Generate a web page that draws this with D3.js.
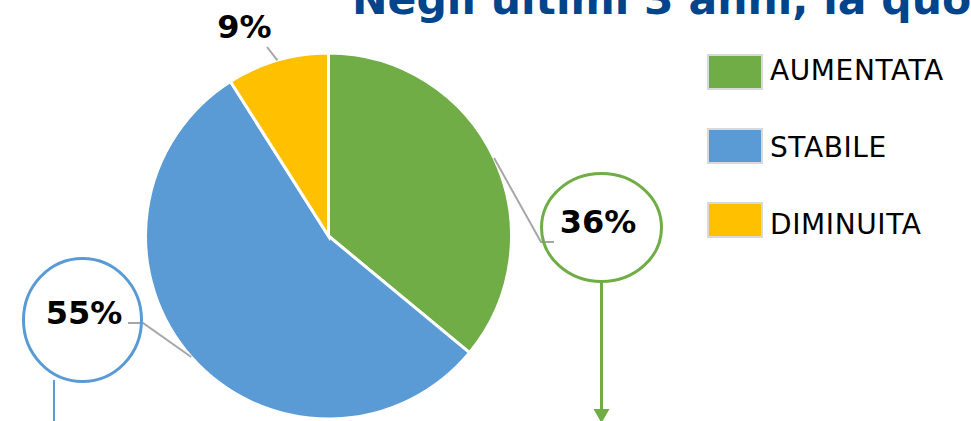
<!DOCTYPE html>
<html>
<head>
<meta charset="utf-8">
<script src="https://cdn.jsdelivr.net/npm/d3@7"></script>
<style>
  body { margin: 0; background: white; }
  svg { display: block; font-family: "DejaVu Sans", Verdana, sans-serif; }
</style>
</head>
<body>
<div id="container"></div>
<script>
// data
const categories = ["AUMENTATA", "STABILE", "DIMINUITA"]
const values = [36, 55, 9]
const labels = ["36%", "55%", "9%"]
const colors = ["#70ad47", "#5b9bd5", "#ffc000"]

const w = 971
const h = 421
const cx = 328.5
const cy = 236
const radius = 183

const svg = d3.select("#container")
    .append("svg")
    .attr("width", w)
    .attr("height", h)

// title runs off the top / right edge like in the slide
svg.append("text")
    .attr("x", 352)
    .attr("y", 14)
    .attr("fill", "#00458b")
    .style("font-size", "42.5px")
    .style("font-weight", "bold")
    .text("Negli ultimi 3 anni, la quota di fatturato estero è:")

const pie = d3.pie().sort(null).value((d) => d)
const arcs = pie(values)
const arc = d3.arc().innerRadius(0).outerRadius(radius)

const g = svg.append("g").attr("transform", `translate(${cx}, ${cy})`)
g.selectAll("path")
    .data(arcs)
    .enter()
    .append("path")
    .attr("d", arc)
    .attr("fill", (d, i) => colors[i])
    .attr("stroke", "white")
    .attr("stroke-width", 3)

// point on the outer edge at the middle of a slice
const edge = (d) => {
    const a = (d.startAngle + d.endAngle) / 2
    return [cx + radius * Math.sin(a), cy - radius * Math.cos(a)]
}

// callouts (positions of the label bubbles)
const callouts = [
    { elbow: [541, 242], tail: [554, 242], tx: 598, ty: 233, ell: [601.5, 227.5, 60, 54] },
    { elbow: [143, 323], tail: [128, 323], tx: 84, ty: 324, ell: [82.5, 320, 59, 61.5] },
    { elbow: [267, 47], tail: null, tx: 244.5, ty: 38, ell: null },
]

callouts.forEach((c, i) => {
    const p = edge(arcs[i])
    const pts = [p, c.elbow]
    if (c.tail) pts.push(c.tail)
    svg.append("path")
        .attr("d", d3.line()(pts))
        .attr("fill", "none")
        .attr("stroke", "#a6a6a6")
        .attr("stroke-width", 2)
    if (c.ell) {
        svg.append("ellipse")
            .attr("cx", c.ell[0])
            .attr("cy", c.ell[1])
            .attr("rx", c.ell[2])
            .attr("ry", c.ell[3])
            .attr("fill", "none")
            .attr("stroke", colors[i])
            .attr("stroke-width", 3)
    }
    svg.append("text")
        .attr("x", c.tx)
        .attr("y", c.ty)
        .attr("text-anchor", "middle")
        .style("font-size", "32px")
        .style("font-weight", "bold")
        .attr("fill", "black")
        .text(labels[i])
})

// arrow under the 36% bubble
svg.append("line")
    .attr("x1", 601.5).attr("y1", 282)
    .attr("x2", 601.5).attr("y2", 412)
    .attr("stroke", colors[0])
    .attr("stroke-width", 3)
svg.append("path")
    .attr("d", "M593.5,409 L609.5,409 L601.5,423 Z")
    .attr("fill", colors[0])

// line under the 55% bubble
svg.append("line")
    .attr("x1", 54).attr("y1", 380)
    .attr("x2", 54).attr("y2", 421)
    .attr("stroke", colors[1])
    .attr("stroke-width", 2)

// legend
const legend = svg.append("g")
    .selectAll("g")
    .data(categories)
    .enter()
    .append("g")
legend.append("rect")
    .attr("x", 708)
    .attr("y", (d, i) => 55 + i * 74)
    .attr("width", 54)
    .attr("height", 34)
    .attr("fill", (d, i) => colors[i])
    .attr("stroke", "#d9d9d9")
    .attr("stroke-width", 2)
legend.append("text")
    .attr("x", 770)
    .attr("y", (d, i) => 80 + i * 77)
    .style("font-size", "28px")
    .style("letter-spacing", "0.6px")
    .attr("fill", "black")
    .text((d) => d)
</script>
</body>
</html>
